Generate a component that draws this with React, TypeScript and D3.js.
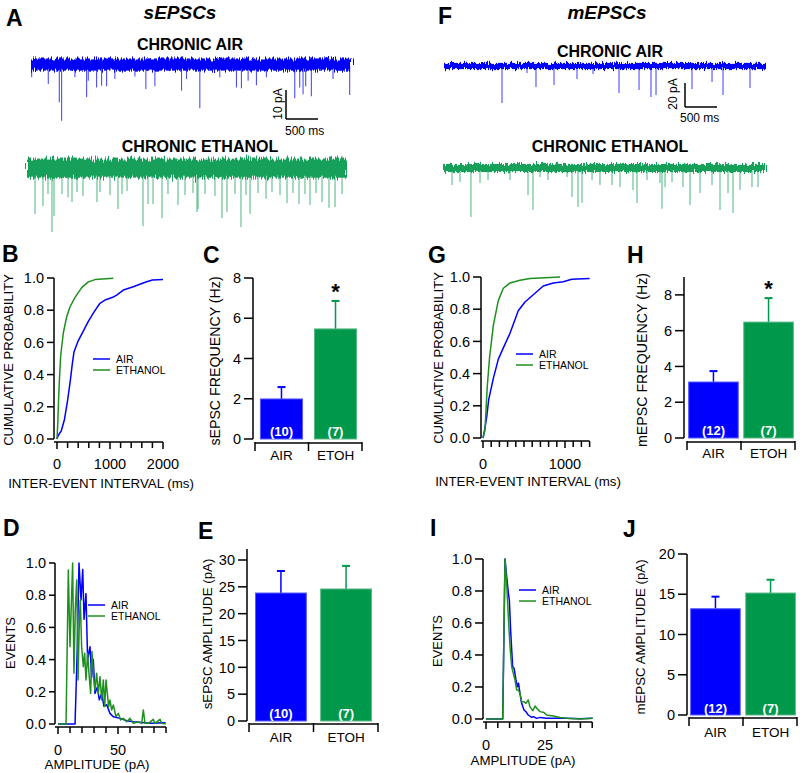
import React from "react";
import * as d3 from "d3";

const FONT = "'Liberation Sans', Arial, Helvetica, sans-serif";
const BLUE = "#0000ff";
const GREEN_LINE = "#1f8f1f";
const GREEN_BAR = "#00984a";
const GREEN_TRACE = "#17a05a";

// ---------------- data ----------------
const groups = ["AIR", "ETOH"];
const legendNames = ["AIR", "ETHANOL"];

// traces: [time ms, amplitude pA (inward, drawn downward)]
const sAirEvents: [number, number][] = [
  [26, 3.9], [284, 6.2], [455, 12.5], [491, 18.9], [698, 3.9], [879, 10.8], [905, 5.1], [1034, 7.4],
  [1112, 6.8], [1189, 7.0], [1318, 4.5], [1629, 3.6], [1799, 7.9], [1939, 7.0], [2353, 8.5], [2430, 4.5],
  [2637, 14.6], [2947, 3.9], [3206, 7.4], [3283, 7.7], [3387, 5.1], [3516, 6.6], [3671, 3.9], [4111, 11.1],
  [4188, 7.4], [4240, 9.7], [4281, 7.0], [4369, 10.4], [4705, 4.5], [4964, 10.0],
];
const sEtohEvents: [number, number][] = [
  [125, 15.5], [249, 12.8], [327, 8.6], [389, 21.7], [421, 16.2], [545, 8.6], [639, 9.7], [701, 11.4],
  [779, 7.9], [872, 9.3], [1090, 11.4], [1137, 7.9], [1293, 9.0], [1417, 13.8], [1480, 8.6], [1558, 7.6],
  [1807, 19.7], [1885, 12.1], [1963, 12.1], [2103, 16.9], [2196, 8.6], [2352, 12.4], [2461, 9.0], [2586, 8.3],
  [2648, 14.8], [2664, 13.8], [2773, 8.6], [2928, 9.3], [3037, 16.9], [3115, 14.8], [3240, 8.6], [3333, 20.0],
  [3411, 9.0], [3474, 15.5], [3598, 8.3], [3723, 10.3], [3816, 7.9], [3941, 9.0], [4050, 11.7], [4143, 8.3],
  [4237, 12.1], [4330, 8.6], [4408, 12.4], [4502, 8.3], [4595, 11.4], [4704, 13.4], [4798, 13.1], [4907, 8.6],
];
const mAirEvents: [number, number][] = [
  [898, 30.8], [1285, 5.8], [1424, 17.5], [1703, 15.8], [2059, 10.8], [2307, 6.7], [2709, 22.5],
  [3019, 20], [3204, 25.8], [3282, 24.2], [3839, 19.2], [4149, 13.3], [4319, 24.2], [4737, 18.3],
];
const mEtohEvents: [number, number][] = [
  [139, 14.2], [263, 11.7], [433, 40.8], [573, 12.5], [697, 10], [1037, 10], [1316, 22.5], [1393, 35],
  [1502, 7.5], [1625, 10], [1920, 7.5], [1997, 24.2], [2090, 32.5], [2152, 29], [2307, 10], [2430, 14.2],
  [2616, 14.2], [2740, 15.8], [2941, 18.3], [3003, 29.2], [3158, 10], [3359, 12.5], [3390, 34], [3437, 15.8],
  [3545, 11.7], [3715, 15.8], [3824, 30.8], [3979, 20.8], [4164, 14.2], [4288, 35], [4412, 20.8], [4489, 37.5],
  [4598, 18.3], [4783, 15.8], [4876, 15.8],
];
// baseline noise band [up, down] in pA
const sAirNoise = [-2.6, 1.6];
const sEtohNoise = [-3.6, 3.0];
const mAirNoise = [-2.6, 2.6];
const mEtohNoise = [-3.4, 3.4];

// cumulative probability [ms, p]
const sCdfAir: [number, number][] = [
  [0, 0], [20, 0.02], [80, 0.05], [140, 0.12], [200, 0.24], [250, 0.36], [290, 0.47], [320, 0.54],
  [400, 0.61], [496, 0.67], [591, 0.73], [700, 0.79], [811, 0.843], [920, 0.865], [1050, 0.88],
  [1126, 0.894], [1251, 0.925], [1440, 0.946], [1550, 0.96], [1692, 0.977], [1800, 0.988], [2000, 0.99],
];
const sCdfEtoh: [number, number][] = [
  [0, 0], [15, 0.1], [30, 0.25], [50, 0.4], [70, 0.52], [120, 0.66], [183, 0.76], [245, 0.82],
  [340, 0.88], [466, 0.94], [590, 0.976], [717, 0.99], [1062, 0.998],
];
const mCdfAir: [number, number][] = [
  [0, 0], [20, 0.05], [45, 0.13], [70, 0.24], [126, 0.37], [187, 0.49], [248, 0.56], [329, 0.65],
  [430, 0.79], [512, 0.845], [613, 0.89], [735, 0.944], [857, 0.963], [979, 0.97], [1082, 0.986], [1300, 0.99],
];
const mCdfEtoh: [number, number][] = [
  [0, 0], [24, 0.05], [52, 0.32], [80, 0.5], [126, 0.7], [187, 0.855], [248, 0.93], [329, 0.963],
  [451, 0.98], [573, 0.99], [940, 1.0],
];

// amplitude histograms [pA, normalized events]
const sHistAir: [number, number][] = [
  [0, 0], [14.2, 0], [16.1, 0.48], [17.5, 1.0], [19.2, 0.77], [20.6, 0.96], [21.7, 0.65], [23.3, 0.81],
  [24.7, 0.4], [26.7, 0.48], [28, 0.29], [29.4, 0.4], [30.8, 0.19], [32.8, 0.23], [34.4, 0.15], [36.4, 0.19],
  [38.3, 0.11], [40.6, 0.12], [43.3, 0.066], [46.1, 0.045], [51.7, 0.035], [57.2, 0.02], [62.8, 0.014],
  [76.7, 0.004], [89.7, 0.008],
];
const sHistEtoh: [number, number][] = [
  [0, 0], [6.7, 0], [8.6, 0.957], [10, 0.48], [11.4, 0.81], [12.2, 1.0], [13.3, 0.315], [14.4, 0.71],
  [15.6, 0.894], [16.7, 0.273], [17.8, 0.646], [18.6, 0.77], [19.7, 0.48], [21.1, 0.356], [22.2, 0.44],
  [23.3, 0.273], [24.7, 0.44], [25.8, 0.315], [27.2, 0.19], [28.3, 0.45], [29.7, 0.294], [30.8, 0.21],
  [32.2, 0.315], [33.6, 0.19], [35, 0.294], [36.4, 0.149], [37.8, 0.273], [38.9, 0.108], [40, 0.273],
  [41.1, 0.19], [42.2, 0.108], [43.3, 0.149], [44.7, 0.087], [46.1, 0.118], [48.3, 0.046], [50.3, 0.066],
  [52.2, 0.025], [54.4, 0.035], [57.2, 0.014], [60, 0.035], [62.8, 0.004], [66.9, 0.014], [69.7, 0.004],
  [71.1, 0.087], [72.5, 0.004], [75.3, 0.004], [79.4, 0.029], [80.8, 0.004], [85, 0.029], [86.4, 0.004],
  [89.7, 0],
];
const mHistAir: [number, number][] = [
  [0, 0], [6.6, 0], [7.1, 0], [8.05, 1.0], [8.5, 0.93], [9.5, 0.785], [9.9, 0.74], [10.5, 0.535],
  [11.3, 0.327], [11.9, 0.317], [12.7, 0.244], [13.3, 0.202], [13.8, 0.223], [14.4, 0.16], [15.1, 0.098],
  [16.1, 0.056], [16.9, 0.046], [17.9, 0.025], [19.4, 0.01], [20.1, 0.015], [21.5, 0.004], [22.9, 0.01],
  [25.7, 0.004], [29.9, 0.004], [34.2, 0.004], [39.8, 0.002], [45.2, 0.004],
];
const mHistEtoh: [number, number][] = [
  [0, 0], [7.06, 0], [8.05, 1.0], [8.76, 0.848], [9.46, 0.64], [10.17, 0.452], [10.88, 0.327],
  [11.58, 0.285], [12.29, 0.244], [13.0, 0.181], [13.7, 0.181], [14.4, 0.16], [15.1, 0.108], [16.1, 0.108],
  [16.9, 0.098], [17.9, 0.119], [18.6, 0.077], [19.8, 0.052], [20.8, 0.081], [21.5, 0.067], [22.9, 0.046],
  [24.6, 0.04], [25.7, 0.025], [28.5, 0.019], [31.4, 0.01], [34.2, 0.004], [39.8, 0], [45.2, 0.004],
];

// bar summaries
const sFreqMean = [1.99, 5.47];
const sFreqSem = [0.59, 1.39];
const sFreqN = ["(10)", "(7)"];
const sFreqSig = [false, true];
const sAmpMean = [23.85, 24.6];
const sAmpSem = [4.1, 4.3];
const sAmpN = ["(10)", "(7)"];
const mFreqMean = [3.13, 6.48];
const mFreqSem = [0.61, 1.34];
const mFreqN = ["(12)", "(7)"];
const mFreqSig = [false, true];
const mAmpMean = [13.2, 15.15];
const mAmpSem = [1.5, 1.65];
const mAmpN = ["(12)", "(7)"];

// tick values
const cdfYTicks = [0, 0.2, 0.4, 0.6, 0.8, 1.0];
const sCdfXMajor = [0, 1000, 2000];
const mCdfXMajor = [0, 1000];
const sHistXMajor = [0, 50];
const mHistXMajor = [0, 25];
const freqTicks = [0, 2, 4, 6, 8];
const sAmpTicks = [0, 5, 10, 15, 20, 25, 30];
const mAmpTicks = [0, 5, 10, 15, 20];

// ---------------- components ----------------
const AX = { stroke: "#000", strokeWidth: 1.5, fill: "none" };

function Trace({ events, x0, x1, base, unit, unitPx, band, color, filterId }: any) {
  const x = d3.scaleLinear().domain([0, 5000]).range([x0, x1]);
  const y = d3.scaleLinear().domain([0, unit]).range([base, base + unitPx]);
  const bTop = y(band[0]);
  const bBot = y(band[1]);
  return (
    <g>
      {events.map(([t, a]: [number, number], i: number) => (
        <line key={i} x1={x(t)} x2={x(t)} y1={base} y2={y(a)} stroke={color} strokeWidth={1.1} strokeOpacity={0.7} />
      ))}
      <rect x={x0} width={x1 - x0} y={bTop} height={bBot - bTop} fill={color} filter={`url(#${filterId})`} />
    </g>
  );
}

function YAxis({ x, scale, ticks, fmt, len = 7, top }: any) {
  const r = scale.range();
  const y0 = Math.max(r[0], r[1]);
  const y1 = top !== undefined ? top : Math.min(r[0], r[1]);
  return (
    <g>
      <line x1={x} x2={x} y1={y0} y2={y1} {...AX} />
      {ticks.map((t: number) => (
        <g key={t}>
          <line x1={x - len} x2={x} y1={scale(t)} y2={scale(t)} {...AX} />
          <text x={x - len - 3} y={scale(t)} dy="0.36em" textAnchor="end" fontSize={14.5}>
            {fmt(t)}
          </text>
        </g>
      ))}
    </g>
  );
}

function NumXAxis({ scale, y, xStart, max, major, step, labelY }: any) {
  const minor = d3.range(0, max + step / 2, step);
  return (
    <g>
      <line x1={xStart} x2={scale(max)} y1={y} y2={y} {...AX} />
      {minor.map((t: number) => (
        <line key={t} x1={scale(t)} x2={scale(t)} y1={y} y2={y + (major.includes(t) ? 7 : 6)} {...AX} />
      ))}
      {major.map((t: number) => (
        <text key={"l" + t} x={scale(t)} y={labelY} textAnchor="middle" fontSize={14.5}>
          {t}
        </text>
      ))}
    </g>
  );
}

function Legend({ x, y, colors }: any) {
  return (
    <g fontSize={10.5}>
      {legendNames.map((n, i) => (
        <g key={n}>
          <line x1={x} x2={x + 17} y1={y + i * 11} y2={y + i * 11} stroke={colors[i]} strokeWidth={1.5} />
          <text x={x + 23} y={y + i * 11 + 4}>{n}</text>
        </g>
      ))}
    </g>
  );
}

function Curves({ x, y, series }: any) {
  const line = d3.line<[number, number]>().x((d) => x(d[0])).y((d) => y(d[1]));
  return (
    <g>
      {series.map((s: any, i: number) => (
        <path key={i} d={line(s.data) || ""} stroke={s.color} strokeWidth={1.5} fill="none" strokeLinejoin="round" />
      ))}
    </g>
  );
}

function Bars({ xRange, y, yAxisX, yTicks, yTop, means, sems, ns, sig, pInner, pOuter, axisY, labelY, nY, title, titleX, titleY, titleSize }: any) {
  const xb = d3.scaleBand<string>().domain(groups).range(xRange).paddingInner(pInner).paddingOuter(pOuter);
  const colors = [BLUE, GREEN_BAR];
  const edges = ["#5a5aff", "#5cb888"];
  const y0 = y(0);
  return (
    <g>
      {groups.map((g, i) => {
        const bx = xb(g)!;
        const bw = xb.bandwidth();
        const cx = bx + bw / 2;
        const top = y(means[i]);
        const et = y(means[i] + sems[i]);
        return (
          <g key={g}>
            <line x1={cx} x2={cx} y1={top} y2={et} stroke={colors[i]} strokeWidth={1.5} />
            <line x1={cx - 4} x2={cx + 4} y1={et} y2={et} stroke={colors[i]} strokeWidth={2} />
            <rect x={bx} y={top} width={bw} height={y0 - top} fill={colors[i]} stroke={edges[i]} strokeWidth={1} />
            <text x={cx} y={nY} textAnchor="middle" fill="#fff" fontWeight="bold" fontSize={13}>
              {ns[i]}
            </text>
            {sig && sig[i] ? (
              <text x={cx} y={et - 2} textAnchor="middle" fontWeight="bold" fontSize={22}>
                *
              </text>
            ) : null}
            <text x={cx} y={labelY} textAnchor="middle" fontSize={13.5}>
              {g}
            </text>
          </g>
        );
      })}
      <YAxis x={yAxisX} scale={y} ticks={yTicks} fmt={(t: number) => String(t)} len={9} top={yTop} />
      <line x1={xRange[0]} x2={xRange[1]} y1={axisY} y2={axisY} {...AX} />
      {[xRange[0], (xRange[0] + xRange[1]) / 2, xRange[1]].map((tx: number, i: number) => (
        <line key={i} x1={tx} x2={tx} y1={axisY - 1} y2={axisY + 8} {...AX} />
      ))}
      <text transform={`translate(${titleX},${titleY}) rotate(-90)`} textAnchor="middle" fontSize={titleSize || 13.3}>
        {title}
      </text>
    </g>
  );
}

function PanelLetter({ x, y, t }: any) {
  return (
    <text x={x} y={y} fontSize={23} fontWeight="bold">
      {t}
    </text>
  );
}

export default function App() {
  const f1 = (t: number) => t.toFixed(1);

  // CDF scales
  const bx = d3.scaleLinear().domain([0, 2000]).range([57, 163]);
  const by = d3.scaleLinear().domain([0, 1]).range([439, 278]);
  const gx = d3.scaleLinear().domain([0, 1000]).range([483, 565]);
  const gy = d3.scaleLinear().domain([0, 1]).range([438, 277]);
  // histogram scales
  const dx = d3.scaleLinear().domain([0, 50]).range([58, 118]);
  const dy = d3.scaleLinear().domain([0, 1]).range([724, 563]);
  const ix = d3.scaleLinear().domain([0, 25]).range([486, 545]);
  const iy = d3.scaleLinear().domain([0, 1]).range([719, 559]);
  // bar scales
  const cy = d3.scaleLinear().domain([0, 8]).range([439, 278]);
  const hy = d3.scaleLinear().domain([0, 9]).range([438, 277]);
  const ey = d3.scaleLinear().domain([0, 30]).range([721, 560]);
  const jy = d3.scaleLinear().domain([0, 20]).range([715, 554]);

  return (
    <svg
      width={800}
      height={773}
      viewBox="0 0 800 773"
      style={{ position: "absolute", left: 0, top: 0, background: "#fff" }}
      fontFamily={FONT}
    >
      <defs>
        {[
          ["roughA", 3, 9],
          ["roughB", 7, 12],
          ["roughC", 11, 7],
          ["roughD", 17, 8],
        ].map(([id, seed, sc]: any) => (
          <filter key={id} id={id} x="-2%" y="-80%" width="104%" height="260%">
            <feTurbulence type="fractalNoise" baseFrequency="0.9 0.04" numOctaves={2} seed={seed} result="n" />
            <feDisplacementMap in="SourceGraphic" in2="n" scale={sc} xChannelSelector="B" yChannelSelector="G" />
          </filter>
        ))}
      </defs>
      <rect width={800} height={773} fill="#fff" />

      {/* ---------- A ---------- */}
      <PanelLetter x={6} y={26} t="A" />
      <text x={180} y={19} textAnchor="middle" fontSize={19} fontWeight="bold" fontStyle="italic">sEPSCs</text>
      <text x={190} y={50} textAnchor="middle" fontSize={16} fontWeight="bold">CHRONIC AIR</text>
      <Trace events={sAirEvents} x0={30} x1={352} base={66} unit={10} unitPx={29} band={sAirNoise} color={BLUE} filterId="roughA" />
      <line x1={286} x2={286} y1={90} y2={119} {...AX} />
      <line x1={286} x2={318} y1={119} y2={119} {...AX} />
      <text transform="translate(282,104) rotate(-90)" textAnchor="middle" fontSize={12}>10 pA</text>
      <text x={285} y={135} fontSize={12}>500 ms</text>
      <text x={200} y={152} textAnchor="middle" fontSize={16} fontWeight="bold">CHRONIC ETHANOL</text>
      <Trace events={sEtohEvents} x0={27} x1={348} base={169} unit={10} unitPx={29} band={sEtohNoise} color={GREEN_TRACE} filterId="roughB" />

      {/* ---------- F ---------- */}
      <PanelLetter x={438} y={24} t="F" />
      <text x={607} y={19} textAnchor="middle" fontSize={19} fontWeight="bold" fontStyle="italic">mEPSCs</text>
      <text x={610} y={57} textAnchor="middle" fontSize={16} fontWeight="bold">CHRONIC AIR</text>
      <Trace events={mAirEvents} x0={444} x1={767} base={66} unit={20} unitPx={24} band={mAirNoise} color={BLUE} filterId="roughC" />
      <line x1={685} x2={685} y1={83} y2={107} {...AX} />
      <line x1={685} x2={717} y1={107} y2={107} {...AX} />
      <text transform="translate(677,94) rotate(-90)" textAnchor="middle" fontSize={12}>20 pA</text>
      <text x={680} y={122} fontSize={12}>500 ms</text>
      <text x={610} y={152} textAnchor="middle" fontSize={16} fontWeight="bold">CHRONIC ETHANOL</text>
      <Trace events={mEtohEvents} x0={443} x1={766} base={168} unit={20} unitPx={24} band={mEtohNoise} color={GREEN_TRACE} filterId="roughD" />

      {/* ---------- B ---------- */}
      <PanelLetter x={2} y={262} t="B" />
      <Curves x={bx} y={by} series={[{ data: sCdfAir, color: BLUE }, { data: sCdfEtoh, color: GREEN_LINE }]} />
      <YAxis x={54} scale={by} ticks={cdfYTicks} fmt={f1} len={7} />
      <NumXAxis scale={bx} y={442} xStart={54} max={2000} major={sCdfXMajor} step={200} labelY={469} />
      <text transform="translate(13,360) rotate(-90)" textAnchor="middle" fontSize={13}>CUMULATIVE PROBABILITY</text>
      <text x={101} y={488} textAnchor="middle" fontSize={13.3}>INTER-EVENT INTERVAL (ms)</text>
      <Legend x={93} y={359} colors={[BLUE, GREEN_LINE]} />

      {/* ---------- C ---------- */}
      <PanelLetter x={203} y={263} t="C" />
      <Bars xRange={[255, 362]} y={cy} yAxisX={253} yTicks={freqTicks} means={sFreqMean} sems={sFreqSem} ns={sFreqN}
        sig={sFreqSig} pInner={0.22} pOuter={0.1} axisY={443} labelY={460} nY={436}
        title="sEPSC FREQUENCY (Hz)" titleX={220} titleY={361} titleSize={14.2} />

      {/* ---------- G ---------- */}
      <PanelLetter x={428} y={263} t="G" />
      <Curves x={gx} y={gy} series={[{ data: mCdfAir, color: BLUE }, { data: mCdfEtoh, color: GREEN_LINE }]} />
      <YAxis x={481} scale={gy} ticks={cdfYTicks} fmt={f1} len={8} />
      <NumXAxis scale={gx} y={441} xStart={481} max={1300} major={mCdfXMajor} step={100} labelY={469} />
      <text transform="translate(443,358) rotate(-90)" textAnchor="middle" fontSize={13}>CUMULATIVE PROBABILITY</text>
      <text x={528} y={486} textAnchor="middle" fontSize={13.3}>INTER-EVENT INTERVAL (ms)</text>
      <Legend x={516} y={354} colors={[BLUE, GREEN_LINE]} />

      {/* ---------- H ---------- */}
      <PanelLetter x={627} y={263} t="H" />
      <Bars xRange={[687, 795]} y={hy} yAxisX={684} yTicks={freqTicks} yTop={277} means={mFreqMean} sems={mFreqSem} ns={mFreqN}
        sig={mFreqSig} pInner={0.1} pOuter={0.03} axisY={442} labelY={458} nY={435}
        title="mEPSC FREQUENCY (Hz)" titleX={647} titleY={360} titleSize={14.2} />

      {/* ---------- D ---------- */}
      <PanelLetter x={3} y={536} t="D" />
      <Curves x={dx} y={dy} series={[{ data: sHistAir, color: BLUE }, { data: sHistEtoh, color: GREEN_LINE }]} />
      <YAxis x={55} scale={dy} ticks={cdfYTicks} fmt={f1} len={6} />
      <NumXAxis scale={dx} y={727} xStart={55} max={90} major={sHistXMajor} step={10} labelY={755} />
      <text transform="translate(15,643) rotate(-90)" textAnchor="middle" fontSize={13}>EVENTS</text>
      <text x={97} y={769} textAnchor="middle" fontSize={13.3}>AMPLITUDE (pA)</text>
      <Legend x={88} y={605} colors={[BLUE, GREEN_LINE]} />

      {/* ---------- E ---------- */}
      <PanelLetter x={198} y={539} t="E" />
      <Bars xRange={[249, 378]} y={ey} yAxisX={247} yTicks={sAmpTicks} yTop={549} means={sAmpMean} sems={sAmpSem} ns={sAmpN}
        pInner={0.22} pOuter={0.1} axisY={724} labelY={742} nY={718}
        title="sEPSC AMPLITUDE (pA)" titleX={212} titleY={634} />

      {/* ---------- I ---------- */}
      <PanelLetter x={430} y={536} t="I" />
      <Curves x={ix} y={iy} series={[{ data: mHistAir, color: BLUE }, { data: mHistEtoh, color: GREEN_LINE }]} />
      <YAxis x={483} scale={iy} ticks={cdfYTicks} fmt={f1} len={8} />
      <NumXAxis scale={ix} y={722} xStart={483} max={45} major={mHistXMajor} step={5} labelY={750} />
      <text transform="translate(442,641) rotate(-90)" textAnchor="middle" fontSize={13}>EVENTS</text>
      <text x={523} y={765} textAnchor="middle" fontSize={13.3}>AMPLITUDE (pA)</text>
      <Legend x={519} y={590} colors={[BLUE, GREEN_LINE]} />

      {/* ---------- J ---------- */}
      <PanelLetter x={623} y={537} t="J" />
      <Bars xRange={[689, 797]} y={jy} yAxisX={687} yTicks={mAmpTicks} means={mAmpMean} sems={mAmpSem} ns={mAmpN}
        pInner={0.1} pOuter={0.03} axisY={718} labelY={737} nY={713}
        title="mEPSC AMPLITUDE (pA)" titleX={645} titleY={637} />
    </svg>
  );
}
